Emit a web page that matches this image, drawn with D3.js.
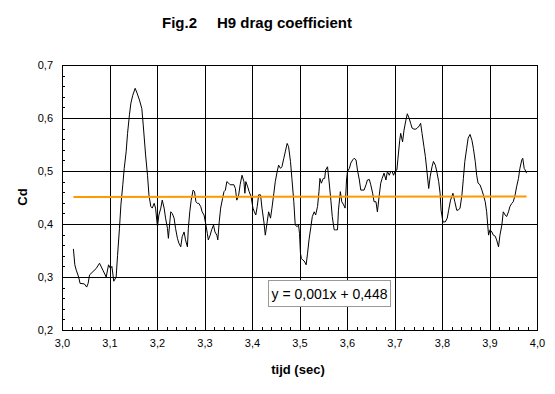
<!DOCTYPE html>
<html>
<head>
<meta charset="utf-8">
<script src="https://cdn.jsdelivr.net/npm/d3@7"></script>
<style>
  html, body { margin: 0; padding: 0; background: #fff; }
  svg { display: block; font-family: "Liberation Sans", Arial, sans-serif; }
</style>
</head>
<body>
<svg id="chart" width="555" height="394"></svg>
<script>
const titleParts = ["Fig.2", "H9 drag coefficient"];
const xTitle = "tijd (sec)";
const yTitle = "Cd";
const xTicks = [3.0, 3.1, 3.2, 3.3, 3.4, 3.5, 3.6, 3.7, 3.8, 3.9, 4.0];
const yTicks = [0.2, 0.3, 0.4, 0.5, 0.6, 0.7];
const trendSlope = 0.001;
const trendIntercept = 0.448;
const trendLabel = "y = 0,001x + 0,448";

const tijd = [
3.024,3.027,3.030,3.035,3.038,3.047,3.052,3.055,3.058,3.065,3.072,3.079,3.086,3.093,3.098,3.102,3.105,3.109,3.114,3.117,
3.121,3.124,3.128,3.131,3.135,3.138,3.142,3.145,3.149,3.154,3.158,3.163,3.168,3.171,3.176,3.180,3.183,3.187,3.190,3.194,
3.197,3.201,3.204,3.208,3.211,3.215,3.218,3.222,3.224,3.227,3.229,3.232,3.236,3.239,3.243,3.246,3.250,3.253,3.257,3.260,
3.264,3.266,3.269,3.272,3.276,3.279,3.282,3.285,3.288,3.292,3.295,3.299,3.303,3.306,3.308,3.312,3.315,3.319,3.322,3.326,
3.328,3.331,3.334,3.338,3.341,3.344,3.347,3.351,3.354,3.362,3.365,3.368,3.372,3.375,3.379,3.383,3.385,3.387,3.391,3.394,
3.398,3.402,3.405,3.408,3.411,3.414,3.418,3.421,3.425,3.428,3.432,3.435,3.439,3.442,3.446,3.449,3.453,3.456,3.460,3.463,
3.467,3.470,3.474,3.477,3.481,3.484,3.488,3.491,3.495,3.498,3.500,3.502,3.504,3.507,3.510,3.514,3.517,3.520,3.524,3.527,
3.531,3.534,3.538,3.541,3.543,3.546,3.550,3.553,3.555,3.559,3.562,3.566,3.569,3.573,3.576,3.580,3.582,3.586,3.589,3.593,
3.596,3.599,3.601,3.605,3.608,3.612,3.615,3.619,3.622,3.626,3.629,3.636,3.640,3.643,3.647,3.650,3.654,3.657,3.661,3.664,
3.668,3.671,3.674,3.678,3.682,3.685,3.689,3.692,3.695,3.698,3.701,3.705,3.707,3.711,3.713,3.717,3.720,3.724,3.727,3.731,
3.734,3.737,3.741,3.745,3.748,3.752,3.755,3.758,3.762,3.765,3.768,3.772,3.775,3.779,3.782,3.786,3.789,3.793,3.796,3.798,
3.802,3.807,3.811,3.814,3.818,3.823,3.827,3.831,3.834,3.838,3.842,3.845,3.848,3.852,3.855,3.859,3.863,3.866,3.870,3.873,
3.876,3.880,3.884,3.887,3.891,3.894,3.898,3.901,3.905,3.908,3.912,3.915,3.919,3.922,3.926,3.929,3.933,3.936,3.940,3.943,
3.947,3.950,3.954,3.957,3.961,3.964,3.968,3.970,3.973,3.975,3.978
];
const cd = [
0.353,0.323,0.313,0.300,0.288,0.287,0.281,0.288,0.304,0.310,0.316,0.326,0.313,0.300,0.323,0.316,0.320,0.292,0.300,0.341,
0.392,0.436,0.474,0.505,0.536,0.571,0.606,0.628,0.643,0.656,0.647,0.634,0.618,0.587,0.530,0.492,0.455,0.433,0.430,0.439,
0.430,0.395,0.417,0.430,0.445,0.430,0.411,0.392,0.373,0.404,0.423,0.420,0.411,0.392,0.373,0.364,0.357,0.376,0.385,0.370,
0.357,0.392,0.423,0.445,0.464,0.461,0.442,0.439,0.439,0.433,0.423,0.417,0.398,0.382,0.370,0.379,0.389,0.398,0.385,0.379,
0.370,0.404,0.430,0.448,0.461,0.464,0.480,0.477,0.474,0.474,0.467,0.445,0.455,0.474,0.492,0.480,0.458,0.480,0.470,0.461,
0.452,0.430,0.423,0.417,0.433,0.455,0.455,0.430,0.404,0.379,0.404,0.423,0.411,0.430,0.458,0.480,0.499,0.511,0.505,0.508,
0.524,0.536,0.552,0.546,0.518,0.486,0.442,0.398,0.395,0.398,0.382,0.345,0.335,0.332,0.330,0.323,0.345,0.370,0.395,0.414,
0.423,0.417,0.433,0.461,0.486,0.477,0.486,0.486,0.502,0.508,0.483,0.445,0.414,0.389,0.389,0.389,0.426,0.461,0.442,0.436,
0.430,0.483,0.499,0.505,0.515,0.521,0.524,0.521,0.502,0.483,0.464,0.464,0.474,0.483,0.484,0.474,0.458,0.442,0.442,0.423,
0.455,0.477,0.486,0.496,0.483,0.499,0.492,0.499,0.499,0.492,0.499,0.502,0.521,0.558,0.571,0.555,0.577,0.596,0.608,0.599,
0.590,0.581,0.579,0.579,0.581,0.585,0.590,0.571,0.546,0.527,0.502,0.467,0.489,0.508,0.518,0.511,0.499,0.480,0.458,0.426,
0.404,0.404,0.411,0.426,0.445,0.458,0.442,0.426,0.426,0.430,0.455,0.486,0.518,0.543,0.562,0.569,0.558,0.543,0.518,0.492,
0.477,0.474,0.464,0.455,0.442,0.423,0.379,0.389,0.385,0.379,0.377,0.370,0.357,0.379,0.398,0.423,0.417,0.414,0.423,0.433,
0.439,0.442,0.455,0.470,0.486,0.505,0.521,0.524,0.505,0.502,0.496
];

const svg = d3.select("#chart");
const margin = { left: 62, top: 65, right: 555 - 537, bottom: 394 - 330 };
const W = 555, H = 394;
const x = d3.scaleLinear().domain([3.0, 4.0]).range([margin.left, W - margin.right]);
const y = d3.scaleLinear().domain([0.2, 0.7]).range([H - margin.bottom, margin.top]);

const nl = d3.formatLocale({ decimal: ",", thousands: ".", grouping: [3], currency: ["", ""] });
const fmt = nl.format(".1f");

// gridlines
svg.append("g")
  .attr("transform", `translate(0,${y(0.2)})`)
  .call(d3.axisBottom(x).tickValues(xTicks).tickSize(-(y(0.2) - y(0.7))).tickFormat(""))
  .call(g => g.select(".domain").remove())
  .call(g => g.selectAll("line").attr("stroke", "#000").attr("shape-rendering", "crispEdges"));
svg.append("g")
  .attr("transform", `translate(${x(3.0)},0)`)
  .call(d3.axisLeft(y).tickValues(yTicks).tickSize(-(x(4.0) - x(3.0))).tickFormat(""))
  .call(g => g.select(".domain").remove())
  .call(g => g.selectAll("line").attr("stroke", "#000").attr("shape-rendering", "crispEdges"));

// minor ticks
const xMinor = d3.range(3.0, 4.0001, 0.02);
const yMinor = d3.range(0.2, 0.7001, 0.02);
svg.append("g")
  .attr("transform", `translate(0,${y(0.2)})`)
  .call(d3.axisTop(x).tickValues(xMinor).tickSize(3).tickFormat(""))
  .call(g => g.select(".domain").remove())
  .call(g => g.selectAll("line").attr("stroke", "#000").attr("shape-rendering", "crispEdges"));
svg.append("g")
  .attr("transform", `translate(${x(3.0)},0)`)
  .call(d3.axisRight(y).tickValues(yMinor).tickSize(3).tickFormat(""))
  .call(g => g.select(".domain").remove())
  .call(g => g.selectAll("line").attr("stroke", "#000").attr("shape-rendering", "crispEdges"));

// frame
svg.append("rect")
  .attr("x", x(3.0)).attr("y", y(0.7))
  .attr("width", x(4.0) - x(3.0)).attr("height", y(0.2) - y(0.7))
  .attr("fill", "none").attr("stroke", "#000").attr("shape-rendering", "crispEdges");

// tick labels
svg.append("g")
  .attr("transform", `translate(0,${y(0.2)})`)
  .call(d3.axisBottom(x).tickValues(xTicks).tickSize(0).tickPadding(17).tickFormat(fmt))
  .call(g => g.select(".domain").remove())
  .call(g => g.selectAll("text").attr("font-size", 11).attr("fill", "#000")
    .attr("font-family", "'Liberation Sans', Arial, sans-serif").attr("dy", "0"));
svg.append("g")
  .attr("transform", `translate(${x(3.0)},0)`)
  .call(d3.axisLeft(y).tickValues(yTicks).tickSize(0).tickPadding(9).tickFormat(fmt))
  .call(g => g.select(".domain").remove())
  .call(g => g.selectAll("text").attr("font-size", 11).attr("fill", "#000")
    .attr("font-family", "'Liberation Sans', Arial, sans-serif"));

// data line
const data = tijd.map((t, i) => ({ t, v: cd[i] }));
svg.append("path")
  .datum(data)
  .attr("fill", "none")
  .attr("stroke", "#000")
  .attr("stroke-width", 1)
  .attr("d", d3.line().x(d => x(d.t)).y(d => y(d.v)));

// trend line
const t0 = tijd[0], t1 = tijd[tijd.length - 1];
svg.append("line")
  .attr("x1", x(t0)).attr("x2", x(t1))
  .attr("y1", y(trendSlope * t0 + trendIntercept))
  .attr("y2", y(trendSlope * t1 + trendIntercept))
  .attr("stroke", "#FF9900").attr("stroke-width", 2);

// equation box
const bx = 268.5, by = 280.5, bw = 122, bh = 26;
svg.append("rect").attr("x", bx).attr("y", by).attr("width", bw).attr("height", bh)
  .attr("fill", "#fff").attr("stroke", "#999");
svg.append("text").attr("x", bx + bw / 2).attr("y", by + 18.5)
  .attr("text-anchor", "middle").attr("font-size", 14).attr("fill", "#000")
  .text(trendLabel);

// titles
const title = svg.append("text").attr("y", 28)
  .attr("font-size", 15).attr("font-weight", "bold");
title.append("tspan").attr("x", 162).text(titleParts[0]);
title.append("tspan").attr("x", 217).text(titleParts[1]);
svg.append("text").attr("x", 298).attr("y", 374)
  .attr("text-anchor", "middle").attr("font-size", 13).attr("font-weight", "bold")
  .text(xTitle);
svg.append("text")
  .attr("transform", `translate(27,197) rotate(-90)`)
  .attr("text-anchor", "middle").attr("font-size", 13).attr("font-weight", "bold")
  .text(yTitle);
</script>
</body>
</html>
